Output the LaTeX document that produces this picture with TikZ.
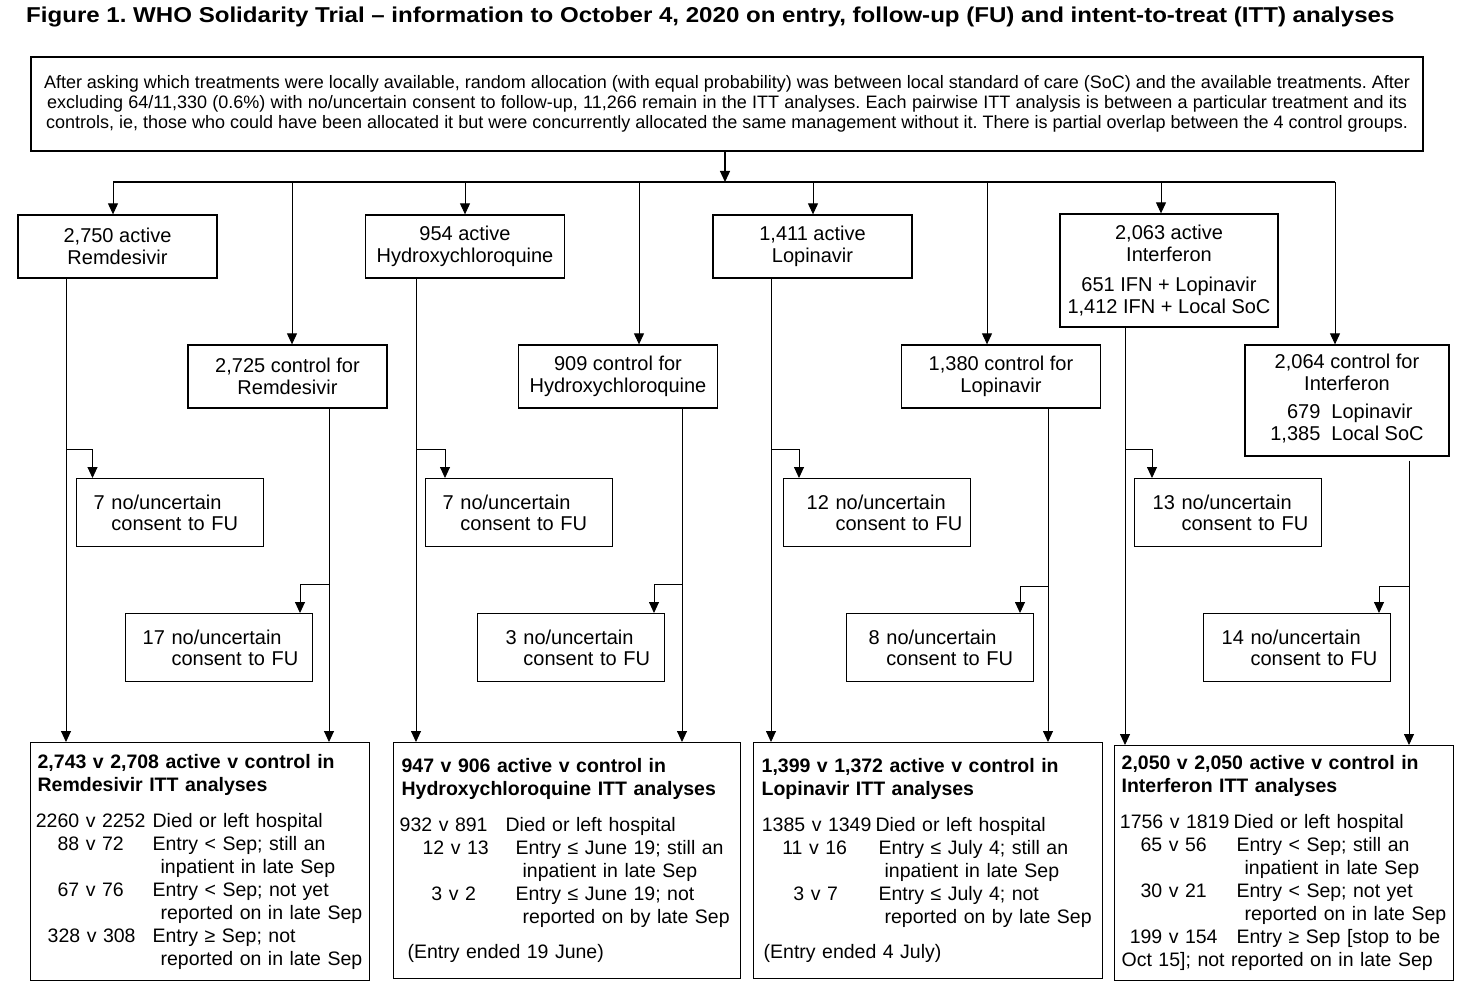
\documentclass[tikz,border=0pt]{standalone}
\usepackage{fontspec}
\usepackage{graphicx}
\setmainfont{Liberation Sans}
\usetikzlibrary{arrows.meta}
\frenchspacing
\newcommand\cons[1]{\mbox{#1 no/uncertain}\\\mbox{\phantom{#1 }consent to FU}}
\newcommand\rw[4]{\mbox{\rlap{\hspace*{#1pt}\makebox[0pt][c]{#2}}\hspace*{#3pt}#4}}
\newcommand\ct[2]{\mbox{\hspace*{#1pt}#2}}
\begin{document}
\begin{tikzpicture}[x=1pt,y=-1pt,
  arr/.style={-{Triangle[width=10pt,length=11pt]}, line width=1pt},
  bus/.style={line width=1.6pt},
  vline/.style={-{Triangle[width=10pt,length=11pt]}, line width=0.9pt},
  mbox/.style={draw, line width=1.3pt, align=center, inner sep=0pt, minimum width=199pt, minimum height=63pt, font=\fontsize{20}{22}\selectfont},
  cbx/.style={draw, line width=1.3pt, align=left, anchor=north west, inner ysep=0pt, minimum width=187pt, minimum height=68pt, font=\fontsize{20}{21.5}\selectfont},
  ibox/.style={draw, line width=1.3pt, align=left, anchor=north west, inner ysep=0pt, inner xsep=7pt, font=\fontsize{19.5}{23}\selectfont},
]
\useasboundingbox (0,0) rectangle (1459,987);
\fill[white] (0,0) rectangle (1459,987);

\node[anchor=base west, inner sep=0pt, font=\bfseries\fontsize{21.5}{24}\selectfont] (title) at (26,22.5) {\scalebox{1.12}[1]{Figure 1. WHO Solidarity Trial – information to October 4, 2020 on entry, follow-up (FU) and intent-to-treat (ITT) analyses}};

\node[draw, line width=1.5pt, minimum width=1392pt, minimum height=94pt, inner sep=0pt, align=center, font=\fontsize{18}{20}\selectfont] (top) at (727,104) {\makebox[1366pt][s]{After asking which treatments were locally available, random allocation (with equal probability) was between local standard of care (SoC) and the available treatments. After}\\\makebox[1360pt][s]{excluding 64/11,330 (0.6\%) with no/uncertain consent to follow-up, 11,266 remain in the ITT analyses. Each pairwise ITT analysis is between a particular treatment and its}\\\makebox[1362pt][s]{controls, ie, those who could have been allocated it but were concurrently allocated the same management without it. There is partial overlap between the 4 control groups.}};

% treatment boxes
\node[mbox] (rem) at (117.5,246.5) {2,750 active\\Remdesivir};
\node[mbox] (remc) at (287.5,376.5) {2,725 control for\\Remdesivir};
\node[mbox] (hcq) at (465,246.5) {954 active\\Hydroxychloroquine};
\node[mbox] (hcqc) at (618,376.5) {909 control for\\Hydroxychloroquine};
\node[mbox] (lop) at (812.5,246.5) {1,411 active\\Lopinavir};
\node[mbox] (lopc) at (1001,376.5) {1,380 control for\\Lopinavir};
\node[mbox, minimum width=218pt, minimum height=113pt] (ifn) at (1169,270.5) {2,063 active\\Interferon\\[8pt]651 IFN + Lopinavir\\1,412 IFN + Local SoC};
\node[mbox, minimum width=204pt, minimum height=111pt] (ifnc) at (1347,400.5) {2,064 control for\\Interferon\\[12pt]\begin{tabular}{@{}r@{\hspace{11pt}}l@{}}679&Lopinavir\\1,385&Local SoC\end{tabular}};

% consent boxes
\node[cbx, inner xsep=17pt, text width=153pt] (c1) at (76,478) {\cons{7}};
\node[cbx, inner xsep=17pt, text width=153pt] (c2) at (125,613) {\cons{17}};
\node[cbx, inner xsep=17pt, text width=153pt] (c3) at (425,478) {\cons{7}};
\node[cbx, inner xsep=28pt, text width=131pt] (c4) at (477,613) {\cons{3}};
\node[cbx, inner xsep=23pt, text width=141pt] (c5) at (783,478) {\cons{12}};
\node[cbx, inner xsep=22pt, text width=143pt] (c6) at (846,613) {\cons{8}};
\node[cbx, inner xsep=18pt, text width=151pt] (c7) at (1134,478) {\cons{13}};
\node[cbx, inner xsep=18pt, text width=151pt] (c8) at (1203,613) {\cons{14}};

% ITT boxes
\node[ibox, text width=325pt, minimum height=238pt] (itt1) at (30,742) {\textbf{2,743 v 2,708 active v control in}\\
\textbf{Remdesivir ITT analyses}\\[13pt]
\rw{53}{2260 v 2252}{115}{Died or left hospital}\\
\rw{53}{88 v 72}{115}{Entry < Sep; still an}\\
\ct{123}{inpatient in late Sep}\\
\rw{53}{67 v 76}{115}{Entry < Sep; not yet}\\
\ct{123}{reported on in late Sep}\\
\rw{54}{328 v 308}{115}{Entry ≥ Sep; not}\\
\ct{123}{reported on in late Sep}};

\node[ibox, inner xsep=8pt, text width=331pt, minimum height=236pt] (itt2) at (393,742) {\textbf{947 v 906 active v control in}\\
\textbf{Hydroxychloroquine ITT analyses}\\[13pt]
\rw{42}{932 v 891}{104}{Died or left hospital}\\
\rw{54}{12 v 13}{114}{Entry ≤ June 19; still an}\\
\ct{121}{inpatient in late Sep}\\
\rw{52}{3 v 2}{114}{Entry ≤ June 19; not}\\
\ct{121}{reported on by late Sep}\\[12pt]
\ct{6}{(Entry ended 19 June)}};

\node[ibox, inner xsep=8pt, text width=333pt, minimum height=236pt] (itt3) at (753,742) {\textbf{1,399 v 1,372 active v control in}\\
\textbf{Lopinavir ITT analyses}\\[13pt]
\rw{55}{1385 v 1349}{114}{Died or left hospital}\\
\rw{53}{11 v 16}{117}{Entry ≤ July 4; still an}\\
\ct{123}{inpatient in late Sep}\\
\rw{54}{3 v 7}{117}{Entry ≤ July 4; not}\\
\ct{123}{reported on by late Sep}\\[12pt]
\ct{2}{(Entry ended 4 July)}};

\node[ibox, text width=325pt, minimum height=235pt] (itt4) at (1114,745) {\textbf{2,050 v 2,050 active v control in}\\
\textbf{Interferon ITT analyses}\\[13pt]
\rw{53}{1756 v 1819}{112}{Died or left hospital}\\
\rw{52}{65 v 56}{115}{Entry < Sep; still an}\\
\ct{123}{inpatient in late Sep}\\
\rw{52}{30 v 21}{115}{Entry < Sep; not yet}\\
\ct{123}{reported on in late Sep}\\
\rw{52}{199 v 154}{115}{Entry ≥ Sep [stop to be}\\
\ct{0}{Oct 15]; not reported on in late Sep}};

% distribution
\coordinate (split) at (725,182);
\coordinate (a1) at (113,182);
\coordinate (a2) at (292,182);
\coordinate (a3) at (465,182);
\coordinate (a4) at (639,182);
\coordinate (a5) at (813,182);
\coordinate (a6) at (987,182);
\coordinate (a7) at (1161,182);
\coordinate (a8) at (1335,182);
\draw[arr, line width=1.3pt] (top.south -| split) -- (split);
\draw[bus] (a1) -- (a8);
\draw[arr] (a1) -- (a1 |- rem.north);
\draw[arr] (a2) -- (a2 |- remc.north);
\draw[arr] (a3) -- (a3 |- hcq.north);
\draw[arr] (a4) -- (a4 |- hcqc.north);
\draw[arr] (a5) -- (a5 |- lop.north);
\draw[arr] (a6) -- (a6 |- lopc.north);
\draw[arr] (a7) -- (a7 |- ifn.north);
\draw[arr] (a8) -- (a8 |- ifnc.north);

% branch points
\coordinate (v1) at (66,449);
\coordinate (w1) at (329,584);
\coordinate (v2) at (416,449);
\coordinate (w2) at (682,584);
\coordinate (v3) at (771,449);
\coordinate (w3) at (1048,586);
\coordinate (v4) at (1125,449);
\coordinate (w4) at (1409,586);

\draw[vline] (v1 |- rem.south) -- (v1 |- itt1.north);
\draw[vline] (w1 |- remc.south) -- (w1 |- itt1.north);
\draw[vline] (v2 |- hcq.south) -- (v2 |- itt2.north);
\draw[vline] (w2 |- hcqc.south) -- (w2 |- itt2.north);
\draw[vline] (v3 |- lop.south) -- (v3 |- itt3.north);
\draw[vline] (w3 |- lopc.south) -- (w3 |- itt3.north);
\draw[vline] (v4 |- ifn.south) -- (v4 |- itt4.north);
\draw[vline] ([yshift=-4pt]w4 |- ifnc.south) -- (w4 |- itt4.north);

\draw[vline] (v1) -| ([xshift=16.5pt]c1.north west);
\draw[vline] (w1) -| ([xshift=175pt]c2.north west);
\draw[vline] (v2) -| ([xshift=20pt]c3.north west);
\draw[vline] (w2) -| ([xshift=177pt]c4.north west);
\draw[vline] (v3) -| ([xshift=16pt]c5.north west);
\draw[vline] (w3) -| ([xshift=174pt]c6.north west);
\draw[vline] (v4) -| ([xshift=18pt]c7.north west);
\draw[vline] (w4) -| ([xshift=176pt]c8.north west);
\end{tikzpicture}
\end{document}
